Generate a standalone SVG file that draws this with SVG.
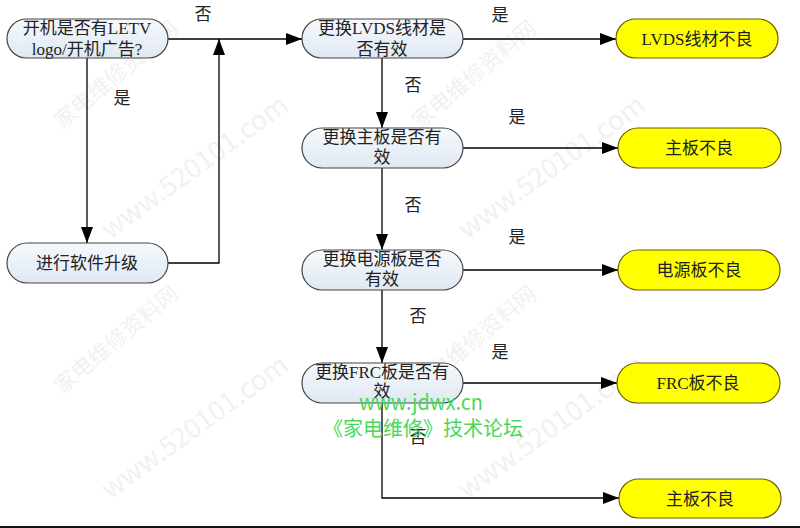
<svg xmlns="http://www.w3.org/2000/svg" width="800" height="528" viewBox="0 0 800 528">
<defs>
<linearGradient id="g" x1="0" y1="0" x2="0" y2="1">
<stop offset="0" stop-color="#f6f9fc"/>
<stop offset="1" stop-color="#dfe8f2"/>
</linearGradient>
<marker id="a" viewBox="0 0 16 12" refX="16" refY="6" markerWidth="16" markerHeight="12" markerUnits="userSpaceOnUse" orient="auto">
<path d="M0,0 L16,6 L0,12 Z" fill="#000"/>
</marker>
<style>
.p{fill:url(#g);stroke:#444;stroke-width:1.2}
.y{fill:#ffff00;stroke:#6b5e00;stroke-width:1.2}
.t{font-family:"Liberation Serif","Noto Sans CJK SC",serif;font-size:17px;fill:#222;text-anchor:middle}
.c{fill:none;stroke:#000;stroke-width:1.3}
.w{font-family:"Noto Sans CJK SC","Liberation Sans",sans-serif;fill:#f1f1f1}
.gr{font-family:"Noto Sans CJK SC","Liberation Sans",sans-serif;fill:#48d85a;text-anchor:middle}
</style>
</defs>
<rect width="800" height="528" fill="#fff"/>
<g id="watermarks">
<text class="w" font-size="22" transform="translate(62,130) rotate(-40)">家电维修资料网</text>
<text class="w" font-size="27" transform="translate(110,240) rotate(-36)">www.520101.com</text>
<text class="w" font-size="22" transform="translate(420,130) rotate(-40)">家电维修资料网</text>
<text class="w" font-size="27" transform="translate(467,240) rotate(-36)">www.520101.com</text>
<text class="w" font-size="22" transform="translate(62,395) rotate(-40)">家电维修资料网</text>
<text class="w" font-size="27" transform="translate(110,500) rotate(-36)">www.520101.com</text>
<text class="w" font-size="22" transform="translate(420,395) rotate(-40)">家电维修资料网</text>
<text class="w" font-size="27" transform="translate(467,500) rotate(-36)">www.520101.com</text>
</g>
<g id="connectors">
<line class="c" x1="168" y1="39" x2="302" y2="39" marker-end="url(#a)"/>
<line class="c" x1="87" y1="58" x2="87" y2="243" marker-end="url(#a)"/>
<path class="c" d="M168,263 H219 V39" marker-end="url(#a)"/>
<line class="c" x1="382" y1="58" x2="382" y2="128" marker-end="url(#a)"/>
<line class="c" x1="382" y1="168" x2="382" y2="250" marker-end="url(#a)"/>
<line class="c" x1="382" y1="290" x2="382" y2="363" marker-end="url(#a)"/>
<path class="c" d="M382,403 V498 H619" marker-end="url(#a)"/>
<line class="c" x1="463" y1="39" x2="616" y2="39" marker-end="url(#a)"/>
<line class="c" x1="463" y1="148" x2="618" y2="148" marker-end="url(#a)"/>
<line class="c" x1="463" y1="270" x2="618" y2="270" marker-end="url(#a)"/>
<line class="c" x1="463" y1="383" x2="617" y2="383" marker-end="url(#a)"/>
<text class="t" x="203" y="20">否</text>
<text class="t" x="122" y="104">是</text>
<text class="t" x="500" y="21">是</text>
<text class="t" x="413" y="91">否</text>
<text class="t" x="517" y="123">是</text>
<text class="t" x="413" y="211">否</text>
<text class="t" x="517" y="243">是</text>
<text class="t" x="418" y="322">否</text>
<text class="t" x="500" y="358">是</text>
<text class="t" x="418" y="443">否</text>
</g>
<g id="n1"><rect class="p" x="7" y="19" width="161" height="39" rx="19.5"/>
<text class="t" x="87" y="34">开机是否有LETV</text><text class="t" x="87" y="55">logo/开机广告?</text></g>
<g id="n2"><rect class="p" x="7" y="243" width="161" height="40" rx="20"/>
<text class="t" x="87" y="269">进行软件升级</text></g>
<g id="n3"><rect class="p" x="302" y="19" width="161" height="39" rx="19.5"/>
<text class="t" x="382" y="34">更换LVDS线材是</text><text class="t" x="382" y="55">否有效</text></g>
<g id="n4"><rect class="p" x="302" y="128" width="161" height="40" rx="20"/>
<text class="t" x="382" y="143">更换主板是否有</text><text class="t" x="382" y="163">效</text></g>
<g id="n5"><rect class="p" x="302" y="250" width="161" height="40" rx="20"/>
<text class="t" x="382" y="265">更换电源板是否</text><text class="t" x="382" y="285">有效</text></g>
<g id="n6"><rect class="p" x="302" y="363" width="161" height="40" rx="20"/>
<text class="t" x="382" y="378">更换FRC板是否有</text><text class="t" x="382" y="397">效</text></g>
<g id="r1"><rect class="y" x="616" y="19" width="162" height="39" rx="19.5"/>
<text class="t" x="697" y="45">LVDS线材不良</text></g>
<g id="r2"><rect class="y" x="618" y="128" width="163" height="40" rx="20"/>
<text class="t" x="699" y="154">主板不良</text></g>
<g id="r3"><rect class="y" x="618" y="250" width="162" height="40" rx="20"/>
<text class="t" x="699" y="276">电源板不良</text></g>
<g id="r4"><rect class="y" x="617" y="363" width="163" height="40" rx="20"/>
<text class="t" x="698" y="389">FRC板不良</text></g>
<g id="r5"><rect class="y" x="619" y="479" width="162" height="39" rx="19.5"/>
<text class="t" x="700" y="505">主板不良</text></g>
<g id="greenmark">
<text class="gr" x="421" y="410" font-size="21" textLength="124" lengthAdjust="spacingAndGlyphs">www.jdwx.cn</text>
<text class="gr" x="423" y="436" font-size="20">《家电维修》技术论坛</text>
</g>
<rect x="0" y="526" width="800" height="2" fill="#111"/>
</svg>
